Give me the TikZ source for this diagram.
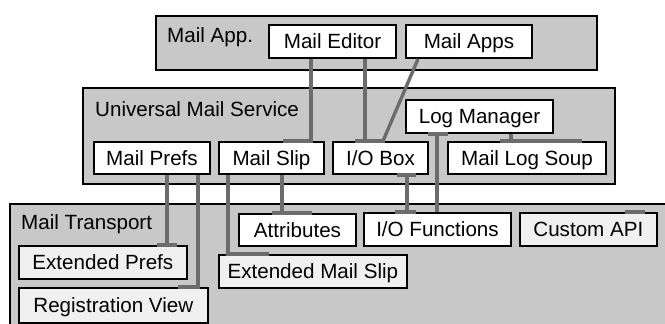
\documentclass[tikz,border=0pt]{standalone}
\usepackage{fontspec}
\setmainfont{Liberation Sans}
\usetikzlibrary{positioning}
\definecolor{layergray}{RGB}{200,200,201}
\definecolor{boxgray}{RGB}{240,240,240}
\definecolor{linkgray}{RGB}{108,108,108}

\begin{document}
\begin{tikzpicture}[
    x=1pt, y=-1pt,
    every node/.style={font=\fontsize{20.6}{24}\selectfont, inner sep=0pt,
                       text height=14.8pt, text depth=0pt},
    layer/.style={draw, line width=2pt, fill=layergray, anchor=north west},
    wbox/.style={draw, line width=2pt, fill=white, anchor=north west},
    gbox/.style={draw, line width=1.7pt, fill=boxgray, anchor=north west},
    link/.style={draw=linkgray, line width=3.4pt}
  ]
  \useasboundingbox (0,0) rectangle (665,324);
  % layers
  \node[layer, minimum width=441, minimum height=54] (app) at (155,15) {};
  \node[anchor=west] (applbl) at (167,35) {Mail App.};
  \node[layer, minimum width=532, minimum height=96] (ums) at (82,87) {};
  \node[anchor=west] (umslbl) at (95,109.5) {Universal Mail Service};
  \node[layer, minimum width=680, minimum height=140] (trans) at (9,203) {};
  \node[anchor=west] (translbl) at (21,222.5) {Mail Transport};
  % components
  \node[wbox, minimum width=127, minimum height=33] (editor) at (268,24) {Mail Editor};
  \node[wbox, minimum width=126, minimum height=33] (apps) at (405,24) {Mail Apps};
  \node[wbox, minimum width=147, minimum height=33] (logmgr) at (405,99) {Log Manager};
  \node[wbox, minimum width=116, minimum height=32] (prefs) at (93,141) {Mail Prefs};
  \node[wbox, minimum width=105, minimum height=32] (slip) at (218,141) {Mail Slip};
  \node[wbox, minimum width=95, minimum height=32] (iobox) at (332,141) {I/O Box};
  \node[wbox, minimum width=158, minimum height=32] (logsoup) at (447,141) {Mail Log Soup};
  \node[wbox, minimum width=117, minimum height=32] (attrib) at (238,213) {Attributes};
  \node[wbox, minimum width=147, minimum height=33] (iofunc) at (363,212) {I/O Functions};
  \node[gbox, minimum width=137, minimum height=33] (custom) at (519,212) {Custom API};
  \node[gbox, minimum width=168, minimum height=33] (extprefs) at (18,245) {Extended Prefs};
  \node[gbox, minimum width=188, minimum height=33] (extslip) at (218,254) {Extended Mail Slip};
  \node[gbox, minimum width=189, minimum height=35] (regview) at (18,287) {Registration View};
  % links
  \draw[link] ([xshift=43]editor.south west) |- ([xshift=65]slip.north west);
  \draw[link] ([xshift=97]editor.south west) -- ([xshift=33]iobox.north west);
  \draw[link] ([xshift=23]iobox.north west) -- ([xshift=53]iobox.north west);
  \draw[link] ([xshift=13]apps.south west) -- ([xshift=51]iobox.north west);
  \draw[link] ([xshift=106]logmgr.south west) -- ([xshift=64]logsoup.north west);
  \draw[link] ([xshift=53]logsoup.north west) -- ([xshift=135]logsoup.north west);
  \draw[link] ([xshift=23]logmgr.south west) -- ([xshift=43]logmgr.south west);
  \draw[link] ([xshift=32]logmgr.south west) -- ([xshift=74]iofunc.north west);
  \draw[link] ([xshift=65]iobox.south west) -- ([xshift=84]iobox.south west);
  \draw[link] ([xshift=75]iobox.south west) -- ([xshift=44]iofunc.north west);
  \draw[link] ([xshift=32]iofunc.north west) -- ([xshift=53]iofunc.north west);
  \draw[link] ([xshift=64]slip.south west) -- ([xshift=44]attrib.north west);
  \draw[link] ([xshift=34]attrib.north west) -- ([xshift=74]attrib.north west);
  \draw[link] ([xshift=10]slip.south west) |- ([xshift=51]extslip.north west);
  \draw[link] ([xshift=74]prefs.south west) -- ([xshift=149]extprefs.north west);
  \draw[link] ([xshift=139]extprefs.north west) -- ([xshift=159]extprefs.north west);
  \draw[link] ([xshift=105]prefs.south west) |- ([xshift=160]regview.north west);
  \draw[link] ([xshift=106]custom.north west) -- ([xshift=126]custom.north west);
\end{tikzpicture}
\end{document}
